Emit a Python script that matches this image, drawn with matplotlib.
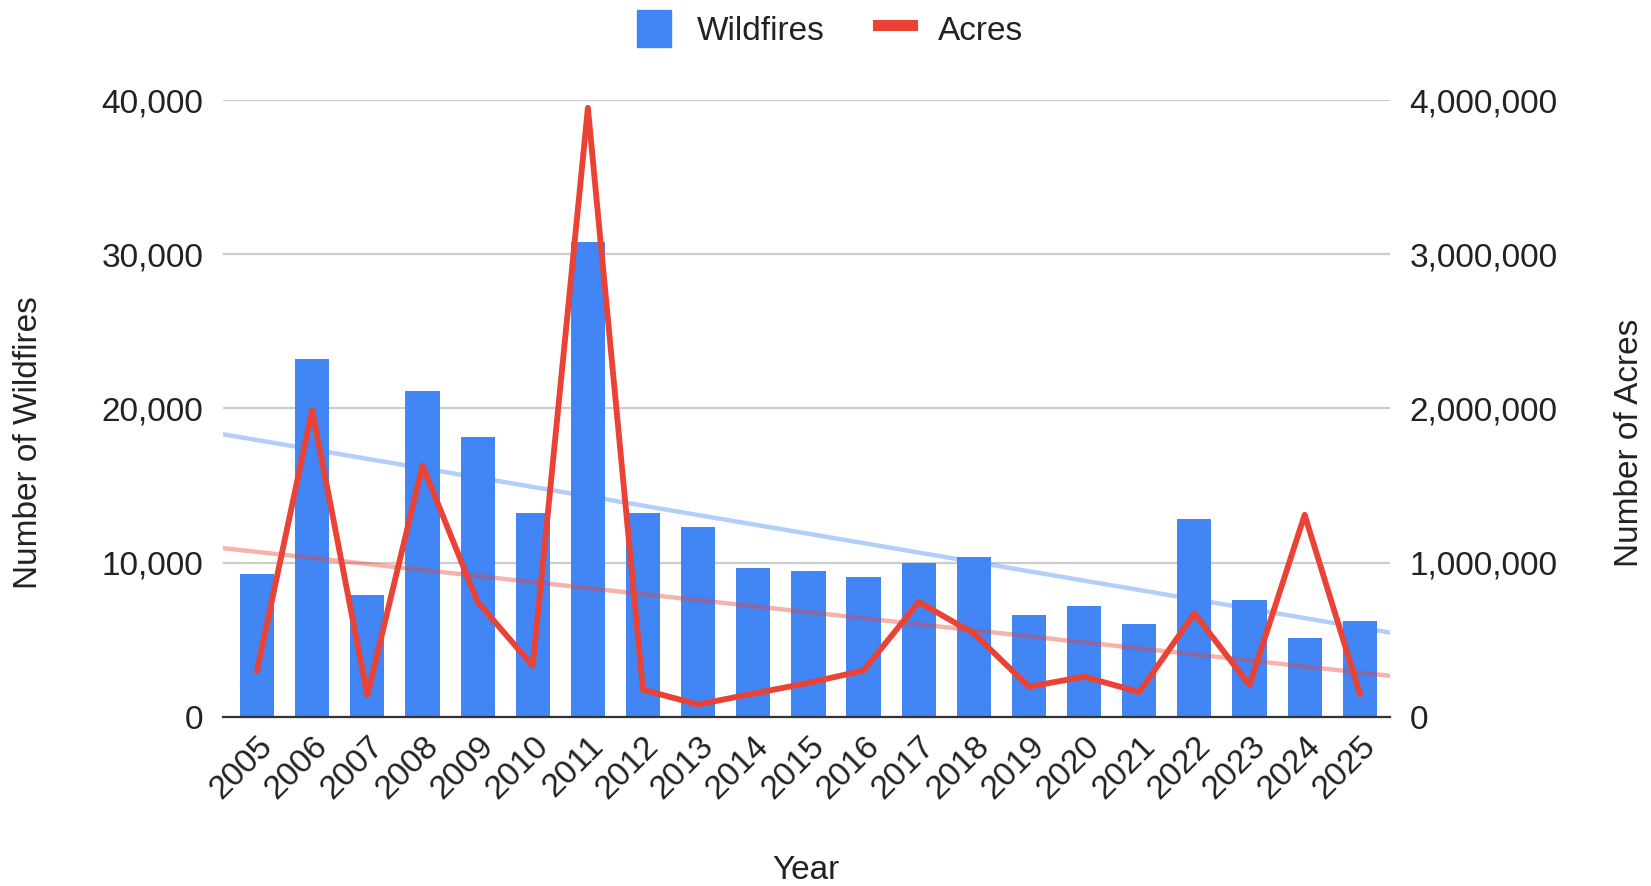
import numpy as np
import matplotlib.pyplot as plt
from matplotlib.patches import Patch
from matplotlib.lines import Line2D
from matplotlib.ticker import FuncFormatter

plt.rcParams['font.family'] = ['Liberation Sans', 'DejaVu Sans']

years = ['2005', '2006', '2007', '2008', '2009', '2010', '2011', '2012', '2013', '2014', '2015',
         '2016', '2017', '2018', '2019', '2020', '2021', '2022', '2023', '2024', '2025']
wildfires = [9250, 23230, 7930, 21160, 18150, 13230, 30780, 13230, 12290, 9650, 9435,
             9060, 10000, 10350, 6590, 7180, 6050, 12820, 7580, 5080, 6240]
acres = [300000, 1990000, 140000, 1630000, 745000, 330000, 3950000, 175000, 80000, 150000, 220000,
         300000, 745000, 540000, 195000, 260000, 160000, 670000, 205000, 1310000, 150000]

blue = '#4285F4'
red = '#EA4335'

fig = plt.figure(figsize=(16.51, 8.86), dpi=100)
ax = fig.add_axes([0.135, 0.191, 0.707, 0.696])
ax2 = ax.twinx()

x = np.arange(len(years))
xlim = (-0.62, len(years) - 0.45)

ax.bar(x, wildfires, width=0.62, color=blue, zorder=2)

# linear trendlines over the full width
t = np.array(xlim)
p1 = np.polyfit(x, wildfires, 1)
ax.plot(t, np.polyval(p1, t), color=blue, alpha=0.4, lw=3.2, zorder=3, solid_capstyle='butt')
p2 = np.polyfit(x, acres, 1)
ax2.plot(t, np.polyval(p2, t), color=red, alpha=0.4, lw=3.2, zorder=3, solid_capstyle='butt')
ax2.plot(x, acres, color=red, lw=4.2, zorder=4)

ax.set_xlim(*xlim)
ax.set_ylim(0, 40000)
ax2.set_ylim(0, 4000000)
ax.set_yticks([0, 10000, 20000, 30000, 40000])
ax2.set_yticks([0, 1000000, 2000000, 3000000, 4000000])
fmt = FuncFormatter(lambda v, pos: f'{int(v):,}')
ax.yaxis.set_major_formatter(fmt)
ax2.yaxis.set_major_formatter(fmt)

ax.grid(axis='y', color='#cccccc', lw=1.6, zorder=0)
ax.set_axisbelow(True)
for s in ['top', 'right', 'left']:
    ax.spines[s].set_visible(False)
for s in ['top', 'right', 'left', 'bottom']:
    ax2.spines[s].set_visible(False)
ax.spines['bottom'].set_color('#333333')
ax.spines['bottom'].set_linewidth(1.6)
ax.spines['bottom'].set_zorder(5)

ax.set_xticks(x)
ax.set_xticklabels(years, rotation=45, ha='right', rotation_mode='anchor')
ax.tick_params(axis='x', length=0, pad=10, labelsize=24, labelcolor='#222222')
ax.tick_params(axis='y', length=0, pad=14, labelsize=24, labelcolor='#222222')
ax2.tick_params(axis='y', length=0, pad=14, labelsize=24, labelcolor='#222222')

fig.text(0.017, 0.50, 'Number of Wildfires', rotation=90, ha='center', va='center', fontsize=24, color='#222222')
fig.text(0.987, 0.50, 'Number of Acres', rotation=90, ha='center', va='center', fontsize=24, color='#222222')
fig.text(0.488, 0.018, 'Year', ha='center', va='center', fontsize=24, color='#222222')

handles = [Patch(facecolor=blue, edgecolor=blue, label='Wildfires'),
           Line2D([0], [0], color=red, lw=8, label='Acres')]
fig.legend(handles=handles, loc='center', bbox_to_anchor=(0.503, 0.968), ncol=2, frameon=False,
           fontsize=24, handlelength=1.0, handleheight=1.3, handletextpad=0.8, columnspacing=1.6,
           labelcolor='#222222')

fig.savefig('out.png', dpi=100)
